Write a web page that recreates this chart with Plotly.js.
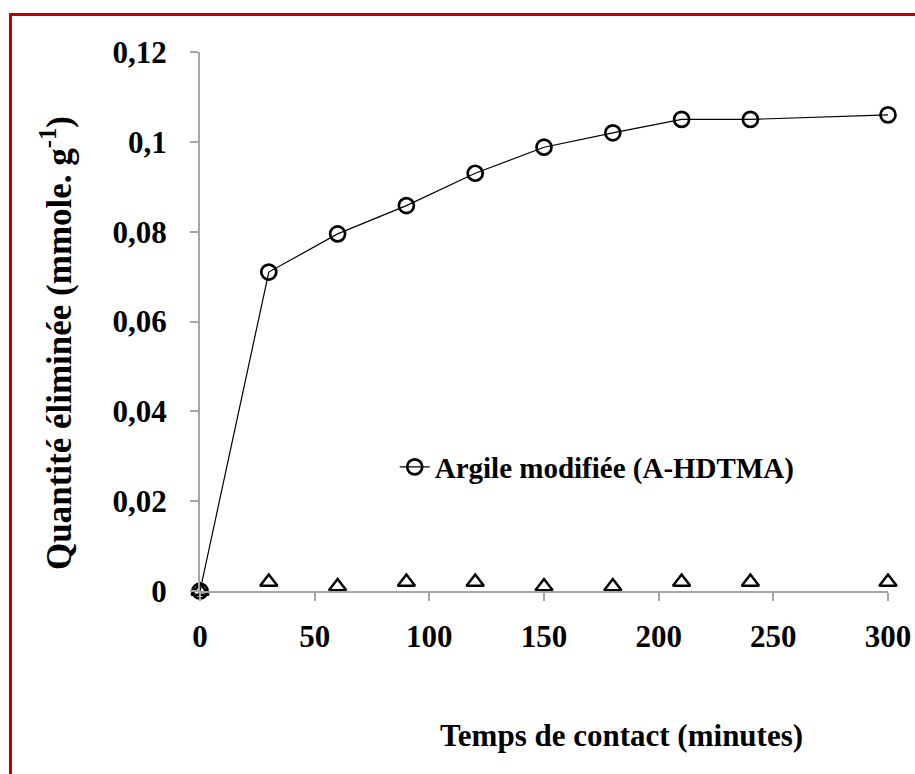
<!DOCTYPE html>
<html>
<head>
<meta charset="utf-8">
<script src="https://cdn.plot.ly/plotly-3.0.1.min.js"></script>
<style>
  html, body { margin: 0; padding: 0; background: #fff; }
  #wrap { position: relative; width: 915px; height: 774px; overflow: hidden; }
  #chart { width: 915px; height: 774px; }
  #frame { position: absolute; left: 9px; top: 13px; width: 920px; height: 800px;
           border-left: 3px solid #c00000; border-top: 3px solid #c00000; pointer-events: none; }
</style>
</head>
<body>
<div id="wrap">
  <div id="chart"></div>
  <div id="frame"></div>
</div>
<script>
// Data
const timeMin = [0, 30, 60, 90, 120, 150, 180, 210, 240, 300];
const argileModifiee = [0, 0.071, 0.0795, 0.0858, 0.093, 0.0988, 0.102, 0.105, 0.105, 0.106];
const argileBrute = [0, 0.002, 0.001, 0.002, 0.002, 0.001, 0.001, 0.002, 0.002, 0.002];
const seriesName = "Argile modifiée (A-HDTMA)";

const xTickVals = [0, 50, 100, 150, 200, 250, 300];
const xTickText = ["0", "50", "100", "150", "200", "250", "300"];
const yTickVals = [0, 0.02, 0.04, 0.06, 0.08, 0.1, 0.12];
const yTickText = ["0", "0,02", "0,04", "0,06", "0,08", "0,1", "0,12"];

const xTitle = "Temps de contact (minutes)";
const yTitle = "Quantité éliminée (mmole. g<sup>-1</sup>)";

const FONT = "'Liberation Serif', 'Times New Roman', Times, 'DejaVu Serif', serif";
const axisGray = "#a6a6a6";

const traces = [
  {
    x: timeMin, y: argileBrute, type: "scatter", mode: "markers",
    showlegend: false, cliponaxis: false,
    marker: { symbol: "triangle-up-open", size: 15, color: "#000", line: { width: 2.5, color: "#000" } }
  },
  {
    x: timeMin, y: argileModifiee, type: "scatter", mode: "lines+markers",
    name: seriesName, cliponaxis: false,
    line: { color: "#000", width: 1.2 },
    marker: { symbol: "circle-open", size: 15, color: "#000", line: { width: 2.7, color: "#000" } }
  }
];

const layout = {
  width: 915, height: 774,
  paper_bgcolor: "#fff", plot_bgcolor: "#fff",
  margin: { l: 200, r: 27, t: 52, b: 183 },
  font: { family: FONT, color: "#000" },
  showlegend: true,
  legend: {
    x: 0.283, y: 0.23, xanchor: "left", yanchor: "middle",
    bgcolor: "rgba(0,0,0,0)",
    font: { family: FONT, size: 29, weight: "bold", color: "#000" },
    itemwidth: 30
  },
  xaxis: {
    range: [0, 300], tickmode: "array", tickvals: xTickVals, ticktext: xTickText,
    showgrid: false, zeroline: false, showline: true, linecolor: axisGray, linewidth: 2,
    ticks: "outside", ticklen: 8, tickwidth: 2, tickcolor: axisGray,
    ticklabelstandoff: 9,
    tickfont: { family: FONT, size: 31, weight: "bold", color: "#000" }
  },
  yaxis: {
    range: [0, 0.12], tickmode: "array", tickvals: yTickVals, ticktext: yTickText,
    showgrid: false, zeroline: false, showline: true, linecolor: axisGray, linewidth: 2,
    ticks: "outside", ticklen: 8, tickwidth: 2, tickcolor: axisGray,
    ticklabelstandoff: 17,
    tickfont: { family: FONT, size: 31, weight: "bold", color: "#000" }
  },
  annotations: [
    {
      text: xTitle, xref: "paper", yref: "paper", x: (621 - 200) / 688, y: (591 - 735) / 539,
      xanchor: "center", yanchor: "middle", showarrow: false,
      font: { family: FONT, size: 31, weight: "bold", color: "#000" }
    },
    {
      text: yTitle, xref: "paper", yref: "paper", x: (56 - 200) / 688, y: (591 - 343) / 539,
      xanchor: "center", yanchor: "middle", showarrow: false, textangle: -90,
      font: { family: FONT, size: 35, weight: "bold", color: "#000" }
    }
  ]
};

Plotly.newPlot("chart", traces, layout, { displayModeBar: false, staticPlot: true });
</script>
</body>
</html>
